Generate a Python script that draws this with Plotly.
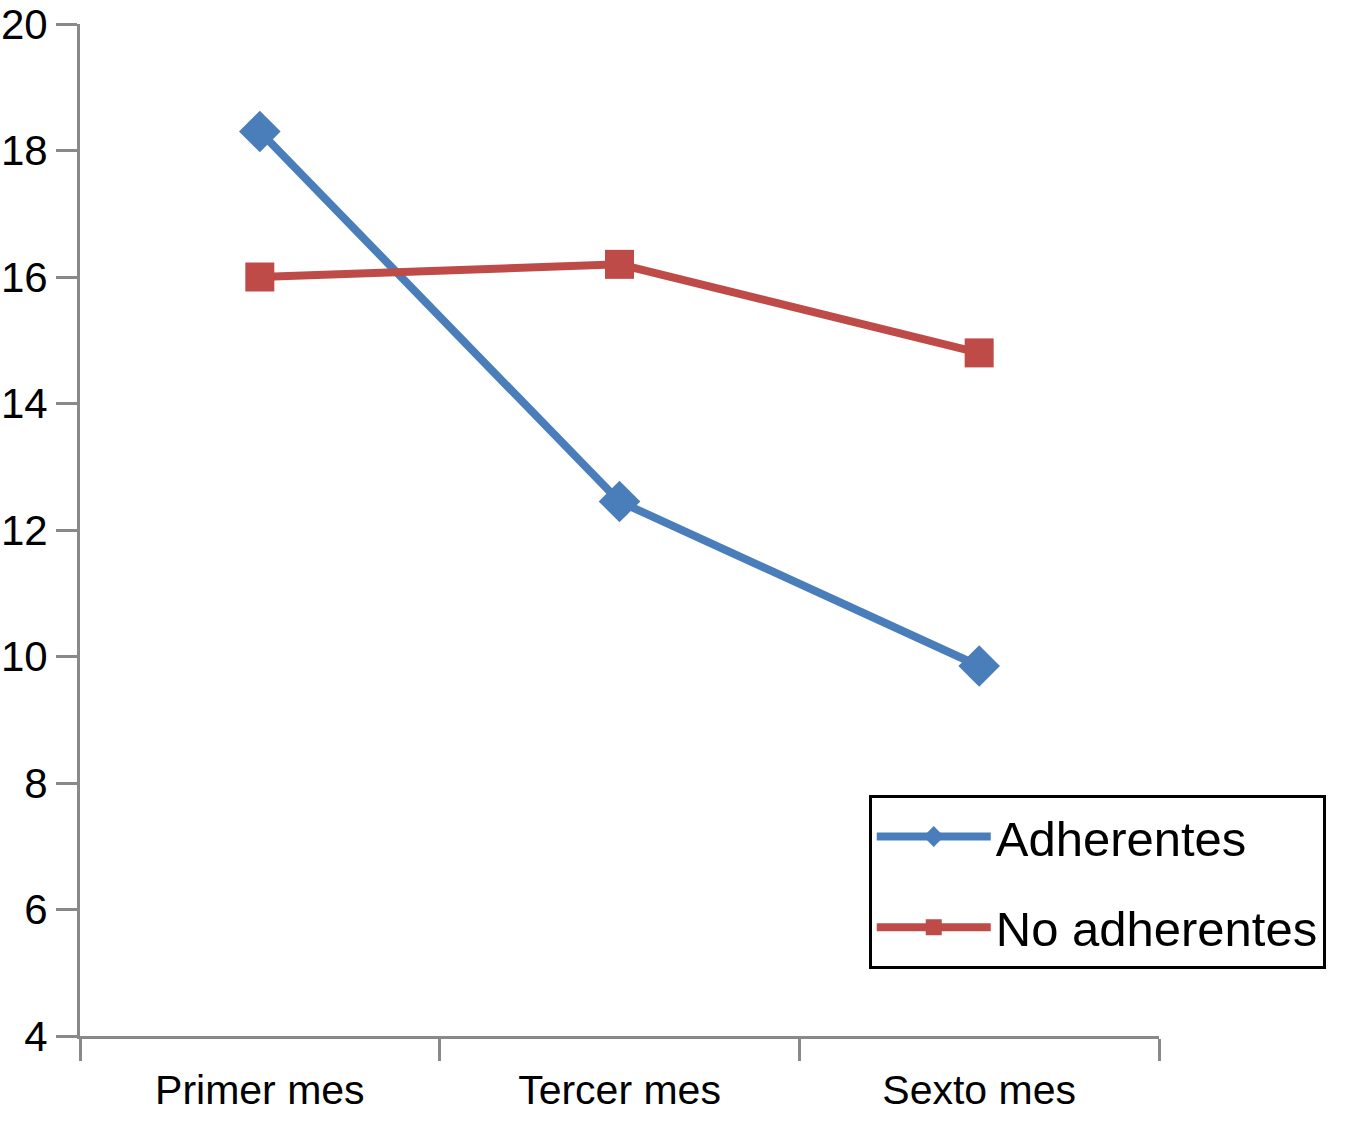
import plotly.graph_objects as go

meses = ["Primer mes", "Tercer mes", "Sexto mes"]
adherentes = [18.3, 12.45, 9.85]
no_adherentes = [16.0, 16.2, 14.8]
y_ticks = [4, 6, 8, 10, 12, 14, 16, 18, 20]

azul = "#4a7ebb"
rojo = "#be4b48"
gris = "#898989"

fig = go.Figure()
fig.add_trace(go.Scatter(x=meses, y=adherentes, name="Adherentes", mode="lines+markers",
                         legendgroup="a",
                         line=dict(color=azul, width=8),
                         marker=dict(symbol="diamond", size=32, color=azul)))
fig.add_trace(go.Scatter(x=meses, y=no_adherentes, name="No adherentes", mode="lines+markers",
                         legendgroup="b",
                         line=dict(color=rojo, width=8),
                         marker=dict(symbol="square", size=29, color=rojo)))

fig.update_xaxes(type="category", range=[-0.5, 2.5], tickson="boundaries",
                 showline=True, linecolor=gris, linewidth=3,
                 ticks="outside", ticklen=22, tickwidth=3, tickcolor=gris,
                 showgrid=False, zeroline=False, automargin=False,
                 ticklabelstandoff=16,
                 tickfont=dict(size=41, color="black"))
fig.update_yaxes(range=[4, 20], tickvals=y_ticks,
                 showline=True, linecolor=gris, linewidth=3,
                 ticks="outside", ticklen=21, tickwidth=3, tickcolor=gris,
                 showgrid=False, zeroline=False, automargin=False,
                 ticklabeloverflow="allow",
                 tickfont=dict(size=42, color="black"))

fig.update_layout(
    width=1348, height=1125,
    margin=dict(l=80, r=189, t=24, b=89, autoexpand=False),
    plot_bgcolor="white", paper_bgcolor="white",
    font=dict(family="Liberation Sans, Arial, sans-serif", color="black"),
    legend=dict(x=0.731, y=0.238, xanchor="left", yanchor="top",
                bordercolor="black", borderwidth=3, bgcolor="white",
                font=dict(size=49), itemwidth=114, tracegroupgap=24),
)

# quitar el margen del body para que la figura empiece en (0, 0)
fig.write_html("out.html", config={"displayModeBar": False},
               post_script="document.body.style.margin='0';")
